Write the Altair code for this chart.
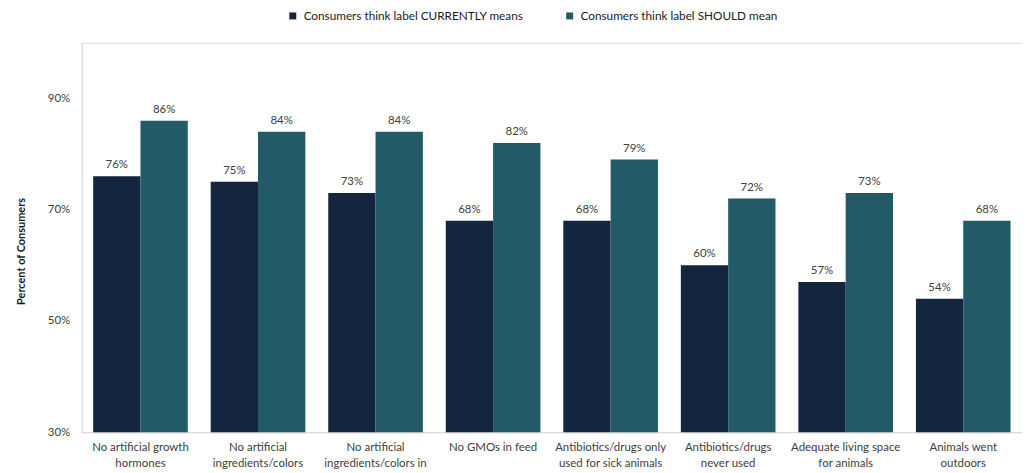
import altair as alt
import pandas as pd

categories = [
    "No artificial growth|hormones",
    "No artificial|ingredients/colors",
    "No artificial|ingredients/colors in",
    "No GMOs in feed",
    "Antibiotics/drugs only|used for sick animals",
    "Antibiotics/drugs|never used",
    "Adequate living space|for animals",
    "Animals went|outdoors",
]
series = ["Consumers think label CURRENTLY means", "Consumers think label SHOULD mean"]
currently = [76, 75, 73, 68, 68, 60, 57, 54]
should = [86, 84, 84, 82, 79, 72, 73, 68]
y_ticks = [30, 50, 70, 90]
colors = ["#13253f", "#225a67"]

rows = []
for c, a, b in zip(categories, currently, should):
    rows.append({"cat": c, "series": series[0], "value": a})
    rows.append({"cat": c, "series": series[1], "value": b})
df = pd.DataFrame(rows)

FONT = "Lato"
TXT = "#404040"

base = alt.Chart(df).encode(
    x=alt.X(
        "cat:N",
        sort=categories,
        scale=alt.Scale(paddingInner=0.195, paddingOuter=0.0975),
        axis=alt.Axis(
            title=None,
            labelExpr="split(datum.label, '|')",
            labelAngle=0,
            labelFontSize=11.5,
            labelLineHeight=16,
            labelColor=TXT,
            labelFont=FONT,
            labelPadding=9,
            ticks=False,
            domainColor="#d9d9d9",
            labelBaseline="top",
        ),
    ),
    xOffset=alt.XOffset("series:N", sort=series, scale=alt.Scale(paddingInner=0, paddingOuter=0)),
)

bars = base.mark_bar().encode(
    y=alt.Y(
        "value:Q",
        scale=alt.Scale(domain=[30, 100], nice=False, zero=False),
        axis=alt.Axis(
            values=y_ticks,
            labelExpr="datum.value + '%'",
            title="Percent of Consumers",
            titleFontWeight="bold",
            titleFontSize=11,
            titleFont=FONT,
            titleColor="#1a1a1a",
            titleX=-55,
            titleY=209,
            labelFontSize=11.5,
            labelFont=FONT,
            labelColor=TXT,
            labelPadding=12,
            ticks=False,
            grid=False,
            domainColor="#d9d9d9",
        ),
    ),
    y2=alt.datum(30),
    color=alt.Color(
        "series:N",
        sort=series,
        scale=alt.Scale(domain=series, range=colors),
        legend=alt.Legend(
            title=None,
            orient="none",
            direction="horizontal",
            legendX=206,
            legendY=-33,
            symbolType="square",
            symbolSize=49,
            symbolStrokeWidth=0,
            labelFontSize=11.8,
            labelFont=FONT,
            labelColor="#1a1a1a",
            labelLimit=0,
            columnPadding=40,
            labelOffset=5,
        ),
    ),
)

labels = base.mark_text(baseline="bottom", dy=-6, fontSize=11.5, font=FONT, color=TXT).encode(
    y=alt.Y("value:Q"),
    text=alt.Text("label:N"),
).transform_calculate(label="datum.value + '%'")

chart = (
    alt.layer(bars, labels)
    .properties(
        width=944,
        height=391,
        autosize=alt.AutoSizeParams(type="none"),
        padding={"left": 74, "top": 34, "right": 0, "bottom": 40},
    )
    .configure_view(stroke="transparent", strokeWidth=0)
    .configure(background="white")
)

chart.save("out.html", embed_options={"renderer": "svg", "actions": False})
